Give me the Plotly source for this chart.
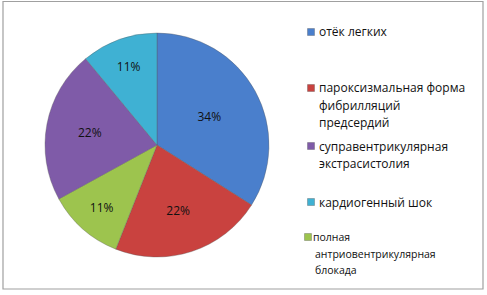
import plotly.graph_objects as go

# ---- data ----
labels = ["отёк легких",
          "пароксизмальная форма фибрилляций предсердий",
          "полная антриовентрикулярная блокада",
          "суправентрикулярная экстрасистолия",
          "кардиогенный шок"]
values = [34, 22, 11, 22, 11]
colors = ["#4A7FCC", "#C9423F", "#9DC44E", "#7F5BA8", "#3FB1D3"]

# legend entries (order as shown in the legend), wrapped lines
legend_order = [0, 1, 3, 4, 2]
legend_lines = {
    0: ["отёк легких"],
    1: ["пароксизмальная форма", "фибрилляций", "предсердий"],
    3: ["суправентрикулярная", "экстрасистолия"],
    4: ["кардиогенный шок"],
    2: ["полная", "антриовентрикулярная", "блокада"],
}

W, H = 487, 295
def px(x): return x / W
def py(y): return 1 - y / H

FONT = "Open Sans"

fig = go.Figure(go.Pie(
    labels=labels, values=values, sort=False, direction="clockwise", rotation=0,
    marker=dict(colors=colors, line=dict(color="rgba(90,90,90,0.35)", width=1)),
    textinfo="percent", textposition="inside", insidetextorientation="horizontal",
    texttemplate="%{percent:.0%}",
    textfont=dict(family=FONT, size=12, color="#111111"),
    domain=dict(x=[px(45), px(269)], y=[py(257), py(33)]),
    showlegend=False, hoverinfo="label+percent",
))

shapes = [dict(type="rect", xref="paper", yref="paper",
               x0=px(3), x1=px(483), y0=py(289), y1=py(1.5),
               line=dict(color="#A0A0A0", width=1.2), fillcolor="rgba(0,0,0,0)")]
annotations = []

# legend layout (pixel positions of first line of each entry)
entry_y = [32, 88, 146, 202, 237]
for k, idx in enumerate(legend_order):
    y0 = entry_y[k]
    small = idx == 2
    mx = 308 if small else 311
    shapes.append(dict(type="rect", xref="paper", yref="paper",
                       x0=px(mx - 3.5), x1=px(mx + 3.5), y0=py(y0 + 3.5), y1=py(y0 - 3.5),
                       fillcolor=colors[idx], line=dict(color="rgba(60,60,60,0.5)", width=0.6)))
    for j, txt in enumerate(legend_lines[idx]):
        if small:
            tx = 311 if j == 0 else 313
            ly = y0 + j * 16.5
            fs = 10.5
        else:
            tx = 317
            ly = y0 + j * 17.3
            fs = 12
        annotations.append(dict(text=txt, xref="paper", yref="paper", x=px(tx), y=py(ly),
                                xanchor="left", yanchor="middle", showarrow=False,
                                font=dict(family=FONT, size=fs, color="#111111")))

fig.update_layout(
    width=W, height=H, margin=dict(l=0, r=0, t=0, b=0),
    paper_bgcolor="white", plot_bgcolor="white",
    shapes=shapes, annotations=annotations,
)

fig.write_html("out.html", config={"displayModeBar": False},
               post_script="document.body.style.margin='0';document.body.style.overflow='hidden';")
